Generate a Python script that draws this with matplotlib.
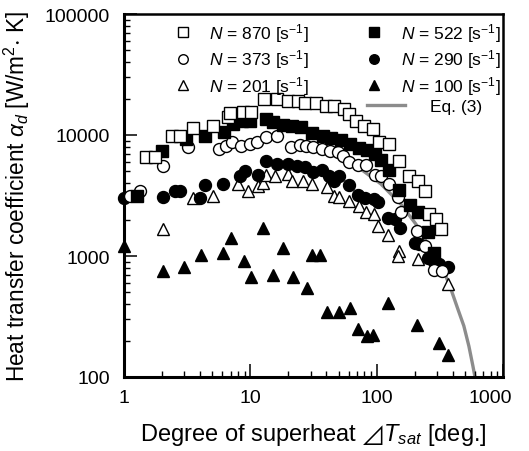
import matplotlib
matplotlib.use('Agg')
import matplotlib.pyplot as plt
from matplotlib.ticker import LogLocator, NullFormatter, FixedLocator, FixedFormatter
from matplotlib.lines import Line2D
from matplotlib.transforms import ScaledTranslation

plt.rcParams['font.family'] = ['Liberation Sans', 'DejaVu Sans']
plt.rcParams['mathtext.fontset'] = 'custom'
plt.rcParams['mathtext.rm'] = 'Liberation Sans'
plt.rcParams['mathtext.it'] = 'Liberation Sans:italic'
plt.rcParams['mathtext.bf'] = 'Liberation Sans:bold'
plt.rcParams['mathtext.fallback'] = 'stix'

# ---------------- data ----------------
x870 = [1.50, 1.76, 2.40, 2.78, 3.53, 5.09, 6.69, 6.94, 8.80, 10.2, 12.9, 16.4, 20.0, 24.0, 27.3, 32.8,
        39.4, 45.6, 54.7, 59.9, 68.1, 78.9, 93.0, 104, 125, 150, 179, 212, 240, 259, 294, 322]
y870 = [6580, 6580, 9820, 9820, 11400, 11900, 14100, 15200, 15500, 15500, 19800, 19800, 19100, 19100, 18400, 18400,
        17400, 17400, 16400, 14900, 13000, 11900, 11200, 8750, 8430, 6100, 4580, 4170, 3440, 2220, 2020, 1670]

x522 = [1.27, 2.00, 3.10, 4.39, 6.22, 7.33, 8.64, 10.0, 13.2, 15.2, 18.3, 21.5, 25.4, 31.0, 37.3, 43.9,
        51.8, 61.1, 71.9, 83.3, 96.4, 108, 125, 150, 183, 212, 254, 283]
y522 = [3130, 7380, 9270, 9820, 10600, 12300, 13000, 13000, 13600, 12800, 12100, 11900, 11600, 10400, 9820, 9440,
        9090, 8430, 7810, 7520, 6970, 6210, 5140, 3510, 2640, 2310, 1580, 1060]

x373 = [1.12, 1.34, 2.04, 3.22, 5.68, 6.45, 7.20, 8.48, 10.0, 11.2, 13.2, 16.4, 20.8, 24.9, 27.8, 31.6,
        36.6, 42.4, 49.0, 53.7, 59.9, 70.7, 81.8, 96.4, 108, 125, 147, 155, 208, 240, 283, 328]
y373 = [3130, 3440, 5550, 7960, 7660, 8110, 8750, 8110, 8430, 8750, 9620, 9820, 7960, 8270, 8110, 7960,
        7660, 7380, 7240, 6700, 5980, 5650, 5650, 4670, 4580, 3940, 3070, 2310, 1610, 1210, 766, 752]

x290 = [1.0, 2.04, 2.54, 2.78, 4.01, 4.39, 6.10, 8.33, 9.12, 11.6, 13.2, 16.4, 19.7, 23.6, 27.3, 31.6, 36.6,
        41.6, 45.6, 49.9, 59.9, 70.7, 80.3, 94.7, 102, 122, 139, 152, 200, 215, 254, 283, 310, 366]
y290 = [3000, 3070, 3440, 3440, 3010, 3860, 3940, 4580, 5040, 4670, 6100, 5760, 5760, 5550, 5440, 4950, 5140,
        4580, 4170, 4580, 3860, 3190, 3010, 2960, 2790, 2060, 2020, 1700, 1280, 1260, 962, 892, 859, 811]

x201 = [2.04, 3.53, 5.09, 8.03, 9.64, 11.4, 12.7, 13.2, 15.8, 20.0, 21.5, 25.9, 31.0, 40.1, 45.6, 49.9,
        59.9, 71.9, 81.8, 94.7, 102, 122, 150, 147, 212, 366]
y201 = [1670, 3010, 3130, 3940, 3440, 3790, 4010, 4670, 4580, 4760, 4170, 4170, 3940, 3720, 3130, 3070,
        2850, 2590, 2310, 2220, 1770, 1490, 1100, 1000, 944, 587]

x100 = [1.0, 2.04, 2.99, 4.08, 6.10, 7.07, 8.96, 10.2, 12.5, 15.2, 18.3, 21.9, 28.3, 31.0, 35.9, 40.8,
        49.9, 61.1, 70.7, 83.3, 93.0, 122, 208, 310, 366]
y100 = [1210, 752, 811, 1020, 1060, 1410, 910, 670, 1700, 697, 1160, 670, 544, 1020, 1020, 344,
        344, 372, 249, 218, 222, 409, 269, 191, 152]

x_eq3 = [49.9, 74.6, 108, 155, 204, 268, 340, 387, 439, 490, 537, 578, 600]
y_eq3 = [6700, 5240, 3940, 2690, 1840, 1140, 752, 533, 365, 264, 180, 123, 100]

xticks = [1, 10, 100, 1000]
xticklabels = ['1', '10', '100', '1000']
yticks = [100, 1000, 10000, 100000]
yticklabels = ['100', '1000', '10000', '100000']

# ---------------- figure ----------------
W, H = 529, 452
fig = plt.figure(figsize=(W / 100, H / 100), dpi=100)
L, R, T, B = 124, 503, 15, 378
ax = fig.add_axes([L / W, 1 - B / H, (R - L) / W, (B - T) / H])
ax.set_xscale('log')
ax.set_yscale('log')
ax.set_xlim(1, 1000)
ax.set_ylim(100, 100000)

ms = 8.6
mew = 1.0
common = dict(linestyle='none', markersize=ms, markeredgewidth=mew, clip_on=False, markeredgecolor='black')

ax.plot(x_eq3, y_eq3, color='#8c8c8c', lw=2.4, zorder=1, clip_on=True)
h100, = ax.plot(x100, y100, marker='^', markerfacecolor='black', zorder=3, **common)
h201, = ax.plot(x201, y201, marker='^', markerfacecolor='white', zorder=3, **common)
h290, = ax.plot(x290, y290, marker='o', markerfacecolor='black', zorder=4, **common)
h373, = ax.plot(x373, y373, marker='o', markerfacecolor='white', zorder=4, **common)
h522, = ax.plot(x522, y522, marker='s', markerfacecolor='black', zorder=5, **common)
h870, = ax.plot(x870, y870, marker='s', markerfacecolor='white', zorder=5, **common)

# spines
for s in ['left', 'bottom']:
    ax.spines[s].set_linewidth(2.2)
for s in ['top', 'right']:
    ax.spines[s].set_linewidth(1.8)

# ticks
ax.xaxis.set_major_locator(FixedLocator(xticks))
ax.xaxis.set_major_formatter(FixedFormatter(xticklabels))
ax.yaxis.set_major_locator(FixedLocator(yticks))
ax.yaxis.set_major_formatter(FixedFormatter(yticklabels))
ax.xaxis.set_minor_locator(LogLocator(base=10, subs=range(2, 10)))
ax.yaxis.set_minor_locator(LogLocator(base=10, subs=range(2, 10)))
ax.xaxis.set_minor_formatter(NullFormatter())
ax.yaxis.set_minor_formatter(NullFormatter())
ax.tick_params(which='major', direction='in', length=9.5, width=1.1, labelsize=14, top=False, right=False)
ax.tick_params(which='minor', direction='in', length=4.5, width=1.0, top=False, right=False)
ax.tick_params(axis='y', which='major', pad=10)
ax.tick_params(axis='x', which='major', pad=9)

fig.canvas.draw()
lbls = ax.get_xticklabels()
lbls[-1].set_transform(lbls[-1].get_transform() + ScaledTranslation(-0.13, 0, fig.dpi_scale_trans))

ax.set_xlabel(r'Degree of superheat $⊿T_{sat}$ [deg.]', fontsize=17)
ax.set_ylabel(r'Heat transfer coefficient $\alpha_d$ [W/m$^2$$\cdot$ K]', fontsize=16.3)
ax.xaxis.set_label_coords(0.5, -0.122)
ax.yaxis.set_label_coords(-0.243, 0.5)

# legends
handles = [h870, h373, h201, h522, h290, h100]
labels = [r'$N$ = 870 [s$^{-1}$]', r'$N$ = 373 [s$^{-1}$]', r'$N$ = 201 [s$^{-1}$]',
          r'$N$ = 522 [s$^{-1}$]', r'$N$ = 290 [s$^{-1}$]', r'$N$ = 100 [s$^{-1}$]']
leg1 = ax.legend(handles, labels, ncol=2, frameon=False, loc='upper left',
                 bbox_to_anchor=((174 - L) / (R - L), 1 - (22 - T) / (B - T)),
                 borderaxespad=0, borderpad=0, fontsize=12.5, handlelength=1.0,
                 handletextpad=1.0, columnspacing=3.3, labelspacing=0.2, markerscale=0.8)
ax.add_artist(leg1)
eq_handle = Line2D([], [], color='#8c8c8c', lw=2.4)
leg2 = ax.legend([eq_handle], ['Eq. (3)'], frameon=False, loc='upper left',
                 bbox_to_anchor=((367 - L) / (R - L), 1 - (100 - T) / (B - T)),
                 borderaxespad=0, borderpad=0, fontsize=12.5, handlelength=2.2, handletextpad=1.4)

fig.savefig('out.png', dpi=100)
